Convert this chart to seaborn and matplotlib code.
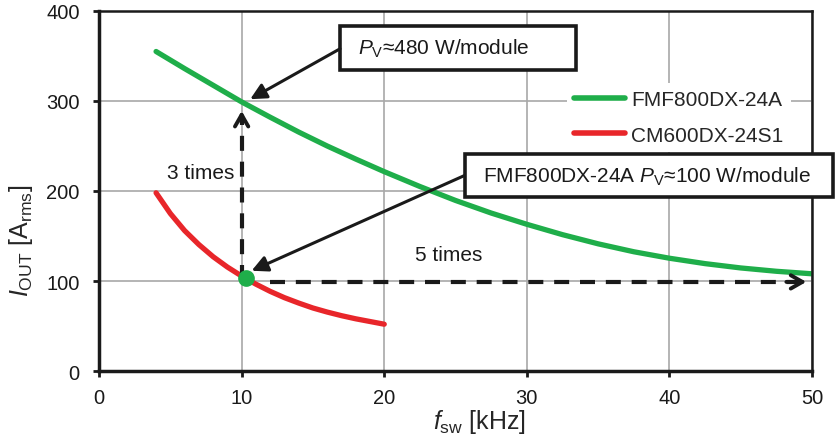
import numpy as np
import pandas as pd
import matplotlib
matplotlib.use("Agg")
import matplotlib.pyplot as plt
from matplotlib.patches import Rectangle
import seaborn as sns

# ---- data ----
fmf_x = [4, 6, 8, 10, 12, 14, 16, 18, 20, 22.5, 25, 27.5, 30, 32.5, 35, 37.5, 40, 42.5, 45, 47.5, 50]
fmf_y = [355, 336, 317.5, 299, 282, 265.5, 250, 235.5, 221.5, 205, 189.5, 175.5, 163, 151.5, 141.3, 132.5, 125.3, 119.3, 114.5, 110.8, 108]
cm_x = [4, 5, 6, 7, 8, 9, 10, 11, 12, 13, 14, 15, 16, 17, 18, 19, 20]
cm_y = [198, 175, 156, 140.5, 127, 115.5, 105.5, 96.5, 88.5, 81.5, 75.5, 70, 65.5, 61.5, 58, 55, 52]
series_names = ["FMF800DX-24A", "CM600DX-24S1"]
colors = ["#1fae4a", "#e8262a"]
x_ticks = [0, 10, 20, 30, 40, 50]
y_ticks = [0, 100, 200, 300, 400]
op_point = (10.3, 103)
box1_text = r"$\mathit{P}_\mathrm{V}$≈480 W/module"
box2_text = r"FMF800DX-24A $\mathit{P}_\mathrm{V}$≈100 W/module"

df = pd.concat([
    pd.DataFrame({"f": fmf_x, "I": fmf_y, "dev": series_names[0]}),
    pd.DataFrame({"f": cm_x, "I": cm_y, "dev": series_names[1]}),
])

sns.set_theme(style="white")
plt.rcParams["font.family"] = ["Liberation Sans", "DejaVu Sans"]
plt.rcParams["mathtext.fontset"] = "custom"
plt.rcParams["mathtext.rm"] = "Liberation Sans"
plt.rcParams["mathtext.it"] = "Liberation Sans:italic"

INK = "#1a1a1a"
FS = 15

fig = plt.figure(figsize=(8.35, 4.39), dpi=100)
ax = fig.add_axes([0.1186, 0.1526, 0.8539, 0.8201])

sns.lineplot(data=df, x="f", y="I", hue="dev", hue_order=series_names,
             palette=colors, linewidth=3.8, ax=ax, sort=True, estimator=None)
for ln in ax.get_lines():
    ln.set_solid_capstyle("round")
    ln.set_solid_joinstyle("round")

ax.set_xlim(0, 50)
ax.set_ylim(0, 400)
ax.set_xticks(x_ticks)
ax.set_yticks(y_ticks)
ax.grid(True, color="#a8a8a8", linewidth=1.2)
ax.set_axisbelow(True)
for s in ["left", "bottom"]:
    ax.spines[s].set_linewidth(2.5)
    ax.spines[s].set_color(INK)
for s in ["top", "right"]:
    ax.spines[s].set_linewidth(1.8)
    ax.spines[s].set_color(INK)
ax.tick_params(axis="both", direction="out", length=4.5, width=2, labelsize=14.5,
               colors=INK, left=True, bottom=True)
ax.tick_params(axis="y", pad=9.5)
ax.tick_params(axis="x", pad=8)
ax.set_xlabel(r"$\mathit{f}_\mathrm{sw}$ [kHz]", fontsize=18)
ax.set_ylabel(r"$\mathit{I}_\mathrm{OUT}$ [A$_\mathrm{rms}$]", fontsize=18)
ax.xaxis.set_label_coords(0.533, -0.1)
ax.yaxis.set_label_coords(-0.09, 0.364)

# legend
leg = ax.legend(loc="upper left", bbox_to_anchor=(0.656, 0.801), fontsize=FS,
                frameon=True, facecolor="white", edgecolor="none", framealpha=1,
                handlelength=2.45, handletextpad=0.3, labelspacing=0.8,
                borderpad=0.35, borderaxespad=0, fancybox=False)
for line in leg.get_lines():
    line.set_linewidth(4)
    line.set_solid_capstyle("round")

# dashed arrows
dash = (0, (3.6, 2.6))
ax.plot([10, 10], [101, 284], color=INK, lw=3, ls=dash, zorder=4)
ax.annotate("", xy=(10, 289), xytext=(10, 276),
            arrowprops=dict(arrowstyle="->,head_length=0.7,head_width=0.4", lw=2.8,
                            color=INK, shrinkA=0, shrinkB=0), zorder=4)
ax.plot([12.0, 49.2], [99, 99], color=INK, lw=3, ls=dash, zorder=4)
ax.annotate("", xy=(49.6, 99), xytext=(48.2, 99),
            arrowprops=dict(arrowstyle="->,head_length=0.7,head_width=0.4", lw=2.8,
                            color=INK, shrinkA=0, shrinkB=0), zorder=4)

# operating point
ax.plot([op_point[0]], [op_point[1]], "o", color=colors[0], markersize=11, zorder=6)

# annotation boxes with arrows
ax.add_patch(Rectangle((16.9, 334.4), 33.45 - 16.9, 383.3 - 334.4, fc="white",
                       ec=INK, lw=2.6, zorder=7, clip_on=False))
ax.text(18.16, 358.9, box1_text, fontsize=FS, ha="left", va="center", zorder=8, color=INK)
ax.annotate("", xy=(10.6, 302), xytext=(16.9, 358),
            arrowprops=dict(arrowstyle="-|>,head_length=0.8,head_width=0.4", lw=2.2,
                            color=INK, shrinkA=0, shrinkB=0), zorder=7)
ax.add_patch(Rectangle((25.67, 193.3), 51.47 - 25.67, 241.1 - 193.3, fc="white",
                       ec=INK, lw=2.6, zorder=7, clip_on=False))
ax.text(26.93, 217.2, box2_text, fontsize=FS, ha="left", va="center", zorder=8, color=INK)
ax.annotate("", xy=(10.7, 111.4), xytext=(25.6, 217),
            arrowprops=dict(arrowstyle="-|>,head_length=0.8,head_width=0.4", lw=2.2,
                            color=INK, shrinkA=0, shrinkB=0), zorder=7)

ax.text(9.47, 220, "3 times", fontsize=FS, ha="right", va="center", color=INK)
ax.text(24.5, 130, "5 times", fontsize=FS, ha="center", va="center", color=INK)

fig.savefig("out.png", dpi=100)
